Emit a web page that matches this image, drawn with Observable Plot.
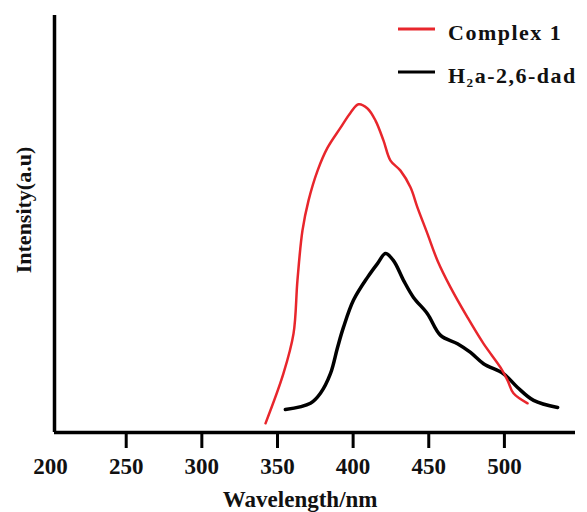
<!DOCTYPE html>
<html>
<head>
<meta charset="utf-8">
<script src="https://cdn.jsdelivr.net/npm/d3@7"></script>
<script src="https://cdn.jsdelivr.net/npm/@observablehq/plot@0.6"></script>
<style>
  html, body { margin: 0; padding: 0; background: #fff; }
  #chart svg { display: block; }
</style>
</head>
<body>
<div id="chart"></div>
<script>
// Series: Complex 1 (red)
const complexWavelength = [342.1, 353.9, 360.6, 363.2, 366.5, 370.5, 376.5, 383.1, 391.7, 398.3, 403.6, 409.5, 414.8, 420.1, 424.7, 431.3, 437.9, 442.5, 449.1, 455.8, 464.4, 475.6, 486.2, 497.4, 502.1, 506.0, 515.3];
const complexIntensity  = [2.2, 14.1, 23.7, 36.5, 48.4, 55.6, 62.8, 68.3, 73.1, 76.7, 78.7, 77.7, 74.8, 70.0, 65.2, 62.8, 58.8, 54.0, 47.7, 41.2, 34.8, 27.6, 21.3, 15.6, 12.5, 9.4, 7.0];
// Series: H2a-2,6-dad (black)
const ligandWavelength = [355.2, 371.8, 378.4, 385.0, 389.7, 393.6, 400.2, 409.5, 416.1, 421.4, 426.7, 433.3, 439.9, 449.1, 457.8, 469.0, 477.6, 486.2, 499.4, 508.7, 519.3, 535.2];
const ligandIntensity  = [5.5, 7.0, 9.4, 14.1, 20.4, 25.2, 31.7, 37.2, 40.5, 42.9, 41.2, 36.5, 32.4, 28.5, 23.3, 21.3, 19.2, 16.5, 14.1, 10.8, 7.7, 6.0];

const xTickLabels = [200, 250, 300, 350, 400, 450, 500];
const xTicks = [250, 300, 350, 400, 450, 500];
const seriesNames = ["Complex 1", "H\u2082a-2,6-dad"];
const seriesColors = ["#e8262c", "#000000"];
const xDomain = [202.6, 547];
const yDomain = [0, 100];

const complex = complexWavelength.map((x, i) => ({x, y: complexIntensity[i]}));
const ligand = ligandWavelength.map((x, i) => ({x, y: ligandIntensity[i]}));

const font = "'Liberation Serif', 'Times New Roman', serif";

const plot = Plot.plot({
  width: 587,
  height: 512,
  marginLeft: 54,
  marginRight: 12,
  marginTop: 15,
  marginBottom: 80,
  style: {fontFamily: font, background: "#fff", overflow: "visible"},
  x: {domain: xDomain, axis: null},
  y: {domain: yDomain, axis: null},
  marks: [
    Plot.axisX({ticks: xTicks, tickSize: 16, tickFormat: () => "", strokeWidth: 3, label: null}),
    Plot.text(xTickLabels, {x: d => d, y: () => 0, dy: 34, text: d => String(d), fontSize: 23, fontWeight: "bold", fill: "#111"}),
    Plot.text(["Wavelength/nm"], {x: () => 365, y: () => 0, dy: 67, fontSize: 23, fontWeight: "bold", fill: "#111", letterSpacing: 2}),
    Plot.text(["Intensity(a.u)"], {frameAnchor: "left", textAnchor: "middle", rotate: -90, dx: -31, dy: -14, fontSize: 22, fontWeight: "bold", fill: "#111", letterSpacing: 1.5}),
    Plot.ruleY([0], {strokeWidth: 3.5}),
    Plot.ruleX([xDomain[0]], {strokeWidth: 3.5}),
    Plot.line(ligand, {x: "x", y: "y", stroke: seriesColors[1], strokeWidth: 3.5, curve: "catmull-rom"}),
    Plot.line(complex, {x: "x", y: "y", stroke: seriesColors[0], strokeWidth: 2.5, curve: "catmull-rom"})
  ]
});

document.getElementById("chart").appendChild(plot);

// Legend drawn into the SVG
const svg = d3.select(plot);
const legend = svg.append("g").attr("font-family", font).attr("font-weight", "bold")
  .attr("font-size", 22).attr("fill", "#111").attr("text-anchor", "start");
seriesNames.forEach((name, i) => {
  const cy = 29 + i * 43;
  legend.append("line").attr("x1", 398).attr("x2", 435).attr("y1", cy).attr("y2", cy)
    .attr("stroke", seriesColors[i]).attr("stroke-width", 3);
  legend.append("text").attr("x", 448).attr("y", cy + 11)
    .attr("letter-spacing", 1.5).text(name);
});
</script>
</body>
</html>
